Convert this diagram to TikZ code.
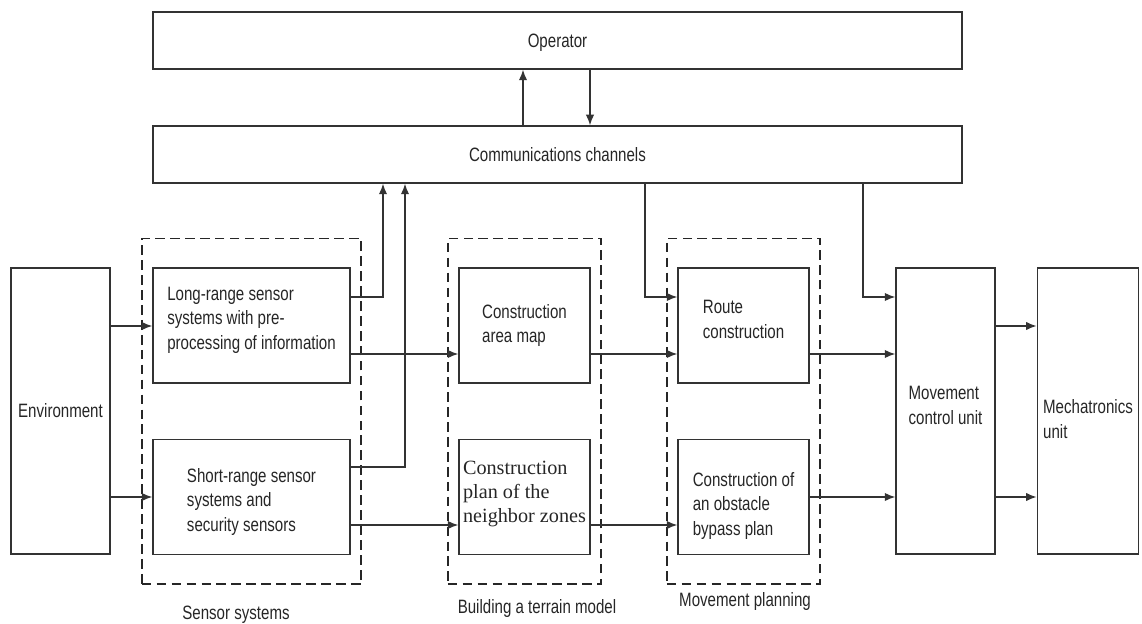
\documentclass[tikz,border=0pt]{standalone}
\usepackage{fontspec}
\setmainfont{Liberation Sans}[FakeStretch=0.78]
\newfontfamily\timesfont{Liberation Serif}
\usetikzlibrary{arrows.meta,fit}
\newcommand\nudge[2]{\raisebox{#1}[\height][\depth]{\begin{tabular}{@{}l@{}}#2\end{tabular}}}
\begin{document}
\begin{tikzpicture}[>={Latex[length=6pt,width=4.8pt]}]
\tikzset{block/.style={draw=black!80, thick, fill=white, align=left, text=black!85,
    font=\fontsize{11}{14}\selectfont},
  wide/.style={block, minimum width=16.18cm, minimum height=1.14cm},
  tall/.style={block, minimum width=1.98cm, minimum height=5.72cm},
  sensorbox/.style={block, minimum width=3.94cm, minimum height=2.3cm},
  stagebox/.style={block, minimum width=2.62cm, minimum height=2.3cm},
  group/.style={draw=black!85, line width=0.9pt, dash pattern=on 5.5pt off 3pt, inner xsep=0.21cm, inner ysep=0.58cm},
  caption/.style={text=black!85, font=\fontsize{11}{14}\selectfont},
  link/.style={draw=black!80, thick}}
\useasboundingbox (0,0) rectangle (22.84,-12.48);
\node[wide] (op) at (11.15,-0.81) {\nudge{-1.2pt}{Operator}};
\node[wide] (cc) at (11.15,-3.09) {Communications channels};
\node[tall] (env) at (1.21,-8.22) {Environment};
\node[sensorbox] (lr) at (5.03,-6.51) {\nudge{3.1pt}{Long-range sensor\\systems with pre-\\processing of information}};
\node[sensorbox] (sr) at (5.03,-9.94) {\nudge{-2.8pt}{Short-range sensor\\systems and\\security sensors}};
\node[stagebox] (map) at (10.49,-6.51) {Construction\\area map};
\node[stagebox, inner xsep=0.5pt, font=\timesfont\fontsize{11.5}{13.6}\selectfont] (plan) at (10.49,-9.94) {\nudge{2pt}{Construction\\plan of the\\neighbor zones}};
\node[stagebox] (route) at (14.87,-6.51) {\nudge{2.5pt}{Route\\construction}};
\node[stagebox] (bypass) at (14.87,-9.94) {\nudge{-5pt}{Construction of\\an obstacle\\bypass plan}};
\node[tall] (mcu) at (18.91,-8.22) {\nudge{2.3pt}{Movement\\control unit}};
\node[tall] (mech) at (21.76,-8.22) {\nudge{-5.7pt}{Mechatronics\\unit}};
\node[group, fit=(lr)(sr)] (sensors) {};
\node[group, fit=(map)(plan)] (terrain) {};
\node[group, fit=(route)(bypass)] (planning) {};
\node[caption] (sensorslabel) at (4.72,-12.3) {Sensor systems};
\node[caption] (terrainlabel) at (10.74,-12.17) {Building a terrain model};
\node[caption] (planninglabel) at (14.9,-12.03) {Movement planning};
\coordinate (lrin) at ([yshift=-0.01cm]lr.west);
\coordinate (routeout) at ([yshift=-0.57cm]route.east);
\draw[link,->] ([xshift=-0.69cm]cc.north) -- ([xshift=-0.69cm]op.south);
\draw[link,->] ([xshift=0.65cm]op.south) -- ([xshift=0.65cm]cc.north);
\draw[link,->] (lrin -| env.east) -- (lrin);
\draw[link,->] (env.east |- sr) -- (sr.west);
\draw[link,->] ([yshift=0.57cm]lr.east) -| ([xshift=-3.49cm]cc.south);
\draw[link,->] ([yshift=0.6cm]sr.east) -| ([xshift=-3.05cm]cc.south);
\draw[link,->] ([yshift=-0.57cm]lr.east) -- ([yshift=-0.57cm]map.west);
\draw[link,->] ([yshift=-0.56cm]sr.east) -- ([yshift=-0.56cm]plan.west);
\draw[link,->] ([yshift=-0.57cm]map.east) -- ([yshift=-0.57cm]route.west);
\draw[link,->] ([yshift=-0.56cm]plan.east) -- ([yshift=-0.56cm]bypass.west);
\draw[link,->] ([xshift=1.75cm]cc.south) |- ([yshift=0.57cm]route.west);
\draw[link,->] ([xshift=6.11cm]cc.south) |- ([yshift=2.28cm]mcu.west);
\draw[link,->] (routeout) -- (routeout -| mcu.west);
\draw[link,->] (bypass.east) -- (bypass.east -| mcu.west);
\draw[link,->] ([yshift=1.7cm]mcu.east) -- ([yshift=1.7cm]mech.west);
\draw[link,->] ([yshift=-1.72cm]mcu.east) -- ([yshift=-1.72cm]mech.west);
\end{tikzpicture}
\end{document}
